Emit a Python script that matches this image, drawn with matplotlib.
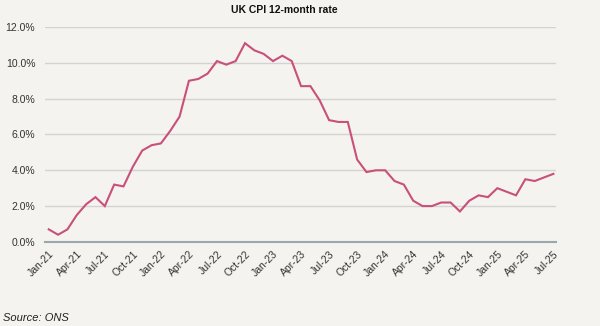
import matplotlib
matplotlib.use("Agg")
import matplotlib.pyplot as plt
import pandas as pd

# UK CPI 12-month rate (%), monthly Jan 2021 - Jul 2025
months = pd.date_range("2021-01-01", "2025-07-01", freq="MS")
cpi_rate = [
    0.7, 0.4, 0.7, 1.5, 2.1, 2.5, 2.0, 3.2, 3.1, 4.2, 5.1, 5.4,
    5.5, 6.2, 7.0, 9.0, 9.1, 9.4, 10.1, 9.9, 10.1, 11.1, 10.7, 10.5,
    10.1, 10.4, 10.1, 8.7, 8.7, 7.9, 6.8, 6.7, 6.7, 4.6, 3.9, 4.0,
    4.0, 3.4, 3.2, 2.3, 2.0, 2.0, 2.2, 2.2, 1.7, 2.3, 2.6, 2.5,
    3.0, 2.8, 2.6, 3.5, 3.4, 3.6, 3.8,
]
tick_labels = [d.strftime("%b-%y") for d in months[::3]]
y_ticks = [0, 2, 4, 6, 8, 10, 12]

bg = "#f4f3ef"
plt.rcParams["font.family"] = ["Liberation Sans", "DejaVu Sans"]

fig = plt.figure(figsize=(6.0, 3.26), dpi=100, facecolor=bg)
ax = fig.add_axes([0.075, 0.258, 0.852, 0.659], facecolor=bg)

x = list(range(len(months)))
ax.plot(x, cpi_rate, color="#c8507a", lw=1.5, solid_joinstyle="miter")

ax.set_xlim(-0.4, len(months) - 1 + 0.3)
ax.set_ylim(0, 12)
ax.set_yticks(y_ticks)
ax.set_yticklabels([f"{v:.1f}%" for v in y_ticks], fontsize=7.5, color="#333333")
ax.set_xticks(x[::3])
ax.set_xticklabels(tick_labels, rotation=45, ha="right", va="top",
                   rotation_mode="anchor", fontsize=7.5, color="#333333")
ax.tick_params(axis="y", length=0, pad=7)
ax.tick_params(axis="x", length=0, pad=5)

ax.grid(axis="y", color="#d3d3d1", lw=1.0)
ax.set_axisbelow(True)
for s in ["top", "right", "left"]:
    ax.spines[s].set_visible(False)
ax.spines["bottom"].set_color("#9aa8ad")
ax.spines["bottom"].set_linewidth(1.5)

fig.text(0.474, 0.97, "UK CPI 12-month rate", ha="center", va="center",
         fontsize=7.5, fontweight="bold", color="#111111")
fig.text(0.005, 0.025, "Source: ONS", ha="left", va="center",
         fontsize=8, style="italic", color="#222222")

fig.savefig("out.png", dpi=100, facecolor=bg)
